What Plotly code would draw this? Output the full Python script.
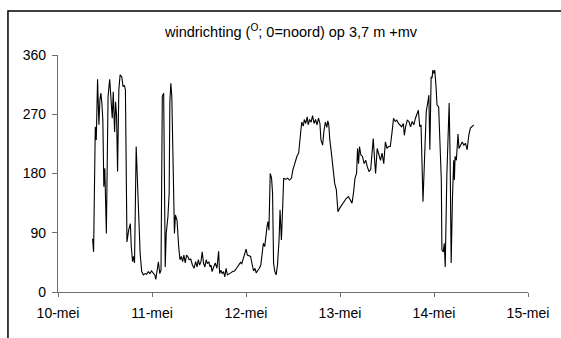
import pandas as pd
import plotly.graph_objects as go

# Wind direction (degrees, 0 = north) at 3.7 m above ground level
start = pd.Timestamp("2009-05-10 00:00")

# hours after 10 May 00:00
hours = [
    8.84, 9.09, 9.52, 9.77, 10.10, 10.45, 10.70, 10.95, 11.20, 11.45,
    11.70, 11.95, 12.35, 12.78, 13.20, 13.60, 13.85, 14.10, 14.45, 14.70,
    14.95, 15.21, 15.53, 15.86, 16.28, 16.61, 16.96, 17.21, 17.61, 18.04,
    18.46, 18.71, 19.04, 19.29, 19.54, 19.96, 20.37, 20.62, 20.97, 21.37,
    21.79, 22.22, 22.62, 23.05, 23.47, 23.87, 24.30, 24.72, 24.97, 25.30,
    25.63, 25.98, 26.30, 26.63, 26.98, 27.38, 27.63, 28.06, 28.38, 28.56,
    28.81, 29.06, 29.31, 29.56, 29.73, 29.98, 30.39, 30.81, 31.14, 31.49,
    31.81, 32.14, 32.49, 32.82, 33.14, 33.49, 33.89, 34.32, 34.74, 35.15,
    35.50, 35.82, 36.15, 36.50, 36.82, 37.15, 37.50, 37.83, 38.15, 38.50,
    38.83, 39.08, 39.33, 39.75, 40.16, 40.58, 41.01, 41.26, 41.58, 41.91,
    42.26, 42.59, 42.91, 43.26, 43.66, 44.09, 44.59, 45.09, 45.59, 46.09,
    46.59, 46.92, 47.27, 47.67, 48.02, 48.35, 48.77, 49.17, 49.60, 49.93,
    50.28, 50.60, 51.03, 51.43, 51.78, 52.10, 52.43, 52.78, 53.11, 53.36,
    53.61, 53.86, 54.18, 54.53, 54.78, 55.04, 55.36, 55.69, 56.04, 56.44,
    56.69, 57.04, 57.37, 57.62, 58.12, 58.62, 59.12, 59.62, 59.95, 60.30,
    60.62, 61.05, 61.45, 61.70, 62.00, 62.25, 62.63, 62.88, 63.25, 63.63,
    63.88, 64.25, 64.63, 65.00, 65.38, 65.76, 66.13, 66.51, 66.88, 67.13,
    67.56, 67.89, 68.26, 68.64, 68.89, 69.14, 69.39, 69.81, 70.14, 70.64,
    71.07, 71.47, 71.89, 72.72, 73.57, 74.15, 74.65, 75.07, 75.48, 75.83,
    76.23, 76.48, 76.73, 76.98, 77.33, 77.73, 78.16, 78.58, 78.98, 79.41,
    79.83, 80.24, 80.49, 80.84, 81.09, 81.49, 81.91, 82.34, 82.74, 83.17,
    83.59, 83.99, 84.42, 84.84, 85.25, 85.67, 86.10, 86.50, 86.92, 87.35,
    87.75, 88.18, 88.43, 88.75, 89.18, 89.60, 90.01, 90.43, 90.86, 91.26,
    91.68, 92.01, 92.36, 92.69, 93.19, 93.62, 94.02, 94.44, 94.69, 94.94,
    95.27, 95.52, 95.69, 95.94, 96.19, 96.52, 96.77, 97.19, 97.52, 97.87,
    98.02, 98.37, 98.62, 98.87, 99.27, 99.52, 99.87, 100.12, 100.38, 100.70,
    101.03, 101.20, 101.38, 101.71, 102.13, 102.38, 102.78, 103.21, 103.63, 104.03,
    104.46, 104.88, 105.29, 105.71, 106.14,
]

direction = [
    81, 61, 251, 231, 323, 254, 292, 302, 287, 261,
    160, 188, 89, 297, 323, 287, 264, 304, 243, 289,
    269, 183, 307, 330, 327, 312, 314, 307, 76, 94,
    104, 69, 46, 54, 44, 221, 155, 117, 59, 31,
    26, 28, 27, 31, 28, 32, 29, 26, 19, 38,
    46, 28, 33, 297, 302, 38, 89, 114, 150, 289,
    317, 297, 221, 150, 89, 117, 109, 69, 49, 54,
    46, 56, 44, 56, 54, 49, 50, 41, 36, 46,
    38, 49, 41, 46, 61, 44, 38, 49, 43, 46,
    38, 41, 31, 38, 44, 36, 62, 28, 33, 28,
    31, 23, 36, 26, 28, 29, 31, 32, 36, 41,
    45, 43, 51, 56, 65, 56, 55, 54, 41, 32,
    36, 29, 33, 36, 41, 64, 74, 69, 92, 99,
    107, 94, 180, 173, 150, 44, 31, 26, 41, 79,
    125, 79, 130, 173, 171, 173, 170, 173, 185, 193,
    196, 207, 211, 231, 245, 258, 252, 262, 256, 266,
    254, 262, 258, 268, 256, 262, 254, 264, 256, 231,
    223, 244, 258, 250, 260, 254, 231, 211, 190, 165,
    155, 122, 127, 135, 142, 145, 140, 135, 152, 173,
    180, 218, 195, 221, 208, 206, 195, 200, 190, 183,
    186, 211, 233, 200, 180, 218, 208, 200, 211, 195,
    228, 218, 221, 221, 241, 264, 259, 261, 256, 254,
    251, 256, 238, 251, 261, 259, 251, 259, 254, 264,
    271, 276, 251, 254, 137, 223, 274, 289, 299, 216,
    327, 325, 337, 332, 337, 312, 284, 281, 236, 170,
    64, 61, 74, 38, 175, 221, 287, 200, 44, 140,
    200, 170, 206, 200, 240, 218, 222, 228, 223, 226,
    216, 238, 249, 251, 254,
]

tick_dates = pd.date_range(start, periods=6, freq="D")
tick_labels = ["10-mei", "11-mei", "12-mei", "13-mei", "14-mei", "15-mei"]
y_ticks = [0, 90, 180, 270, 360]

times = start + pd.to_timedelta(hours, unit="h")

fig = go.Figure()
fig.add_trace(go.Scatter(
    x=times, y=direction, mode="lines",
    line=dict(color="black", width=1.1),
    showlegend=False, hoverinfo="x+y",
))

axis_color = "#6e6e6e"
family = "Liberation Sans, Arial, sans-serif"
tick_font = dict(family=family, size=14, color="black")

fig.update_layout(
    width=561, height=338,
    margin=dict(l=58, r=24, t=55, b=46),
    paper_bgcolor="white", plot_bgcolor="white",
    font=tick_font,
    title=dict(
        text="windrichting (<sup>O</sup>; 0=noord) op 3,7 m +mv",
        x=(291 / 561), xanchor="center",
        y=1 - 32 / 338, yanchor="middle",
        font=dict(family=family, size=14.5, color="black"),
    ),
    xaxis=dict(
        range=[tick_dates[0], tick_dates[-1]],
        tickvals=tick_dates, ticktext=tick_labels,
        showgrid=False, zeroline=False,
        showline=True, linecolor=axis_color, linewidth=1.3,
        ticks="outside", ticklen=4, tickcolor=axis_color, tickwidth=1,
        ticklabelstandoff=4,
        tickfont=tick_font,
    ),
    yaxis=dict(
        range=[0, 360],
        tickvals=y_ticks,
        showgrid=False, zeroline=False,
        showline=True, linecolor=axis_color, linewidth=1.3,
        ticks="outside", ticklen=5, tickcolor=axis_color, tickwidth=1,
        ticklabelstandoff=3,
        tickfont=tick_font,
    ),
    shapes=[dict(
        type="rect", xref="paper", yref="paper",
        x0=(7 - 58) / 479, x1=1.2,
        y0=-0.5, y1=(292 - 11) / 237,
        line=dict(color="black", width=1.5),
        fillcolor="rgba(0,0,0,0)", layer="below",
    )],
)

fig.write_html("out.html")
